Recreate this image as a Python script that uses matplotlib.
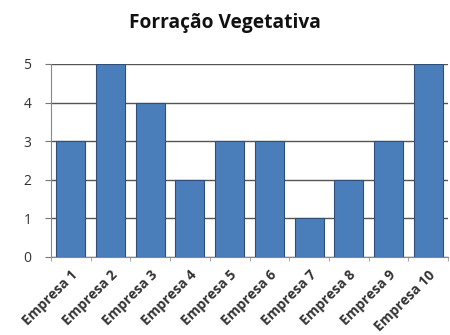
import matplotlib
matplotlib.use("Agg")
import matplotlib.pyplot as plt

categories = ["Empresa 1", "Empresa 2", "Empresa 3", "Empresa 4", "Empresa 5",
              "Empresa 6", "Empresa 7", "Empresa 8", "Empresa 9", "Empresa 10"]
values = [3, 5, 4, 2, 3, 3, 1, 2, 3, 5]
y_ticks = [0, 1, 2, 3, 4, 5]
title = "Forração Vegetativa"

plt.rcParams["font.family"] = ["Open Sans", "DejaVu Sans"]

fig = plt.figure(figsize=(4.5, 3.35), dpi=100)
ax = fig.add_axes([0.113, 0.233, 0.883, 0.576])

x = list(range(len(categories)))
ax.bar(x, values, width=0.73, color="#4a7ebb", edgecolor="#2f4f7a", linewidth=0.8, zorder=3)

ax.set_xlim(-0.5, len(categories) - 0.5)
ax.set_ylim(0, 5)
ax.set_yticks(y_ticks)
ax.yaxis.grid(True, color="#555555", linewidth=1.0, zorder=0)

for s in ["top", "right"]:
    ax.spines[s].set_visible(False)
ax.spines["left"].set_color("#888888")
ax.spines["bottom"].set_color("#888888")

ax.tick_params(axis="y", length=4, color="#777777", pad=10, labelsize=10, labelcolor="#333333")
ax.set_xticks([i + 0.5 for i in range(-1, len(categories))], minor=True)
ax.set_xticks(x)
ax.set_xticklabels(categories, rotation=45, ha="right", rotation_mode="anchor",
                   fontsize=10, fontweight="bold", color="#333333")
ax.tick_params(axis="x", which="major", length=0, pad=8)
ax.tick_params(axis="x", which="minor", length=3, color="#999999")

fig.text(0.5, 0.93, title, ha="center", va="center", fontsize=13.8, fontweight="bold", color="#111111")

fig.savefig("out.png", dpi=100)
